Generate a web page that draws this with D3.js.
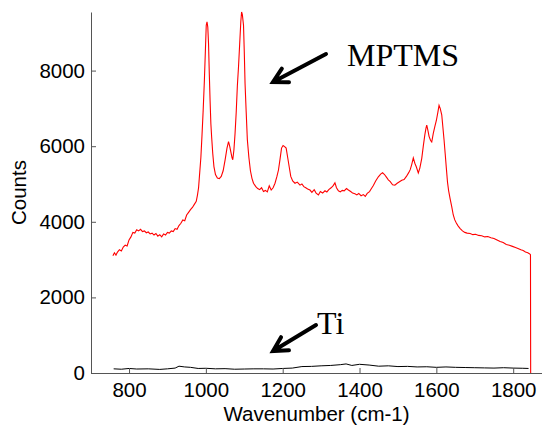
<!DOCTYPE html>
<html>
<head>
<meta charset="utf-8">
<script src="https://cdn.jsdelivr.net/npm/d3@7"></script>
<style>
  body { margin: 0; background: #fff; }
  svg { display: block; }
</style>
</head>
<body>
<svg id="chart"></svg>
<script>
// MPTMS spectrum, [wavenumber, counts]
const mptms = [
  [758, 3100], [762, 3180], [766, 3120], [770, 3200], [775, 3260], [780, 3230],
  [785, 3330], [790, 3380], [795, 3360], [800, 3520], [805, 3600], [810, 3720],
  [815, 3700], [820, 3790], [825, 3760], [830, 3800], [835, 3740], [840, 3760],
  [845, 3710], [850, 3730], [855, 3680], [860, 3700], [865, 3650], [870, 3690],
  [875, 3620], [880, 3660], [885, 3600], [890, 3680], [895, 3650], [900, 3720],
  [905, 3700], [910, 3760], [915, 3740], [920, 3820], [925, 3800], [930, 3900],
  [935, 3960], [940, 4050], [945, 4030], [950, 4180], [955, 4250], [960, 4320],
  [965, 4380], [970, 4460], [975, 4540], [978, 4700], [981, 4900], [984, 5300],
  [987, 5700], [990, 6300], [993, 6950], [996, 7700], [999, 8600], [1001, 9200],
  [1003, 9290], [1005, 9150], [1007, 8700], [1009, 7900], [1011, 7200], [1013, 6600],
  [1015, 6250], [1018, 5800], [1021, 5460], [1025, 5250], [1030, 5160], [1035, 5140],
  [1040, 5200], [1045, 5350], [1050, 5630], [1055, 5950], [1059, 6120], [1062, 6000],
  [1065, 5850], [1068, 5700], [1070, 5640], [1073, 5900], [1076, 6340], [1079, 6900],
  [1082, 7600], [1085, 8100], [1088, 8700], [1091, 9300], [1093, 9550], [1095, 9480],
  [1098, 9200], [1100, 8500], [1102, 7660], [1105, 6900], [1108, 6170], [1112, 5700],
  [1116, 5350], [1120, 5150], [1124, 5020], [1130, 4930], [1135, 4880], [1140, 4850],
  [1145, 4900], [1150, 4800], [1155, 4830], [1160, 4790], [1165, 4950], [1170, 4840],
  [1175, 4900], [1180, 5020], [1185, 5200], [1189, 5370], [1193, 5650], [1197, 5950],
  [1201, 6020], [1205, 5990], [1209, 5950], [1213, 5700], [1217, 5450], [1221, 5200],
  [1226, 5080], [1232, 5020], [1238, 5050], [1245, 4970], [1250, 5000], [1255, 4930],
  [1260, 4900], [1265, 4870], [1271, 4840], [1276, 4780], [1282, 4850], [1287, 4760],
  [1293, 4710], [1298, 4800], [1304, 4760], [1310, 4820], [1315, 4790], [1320, 4850],
  [1326, 4900], [1331, 4950], [1336, 5030], [1340, 4900], [1345, 4820], [1350, 4790],
  [1355, 4830], [1360, 4820], [1366, 4880], [1371, 4840], [1377, 4800], [1382, 4760],
  [1388, 4740], [1393, 4710], [1398, 4750], [1404, 4690], [1410, 4720], [1415, 4670],
  [1420, 4750], [1426, 4800], [1431, 4880], [1436, 4960], [1442, 5080], [1449, 5190],
  [1455, 5260], [1460, 5300], [1465, 5250], [1470, 5180], [1475, 5110], [1480, 5060],
  [1486, 4980], [1492, 4970], [1498, 5020], [1504, 5060], [1510, 5100], [1516, 5120],
  [1522, 5200], [1528, 5300], [1532, 5380], [1536, 5520], [1540, 5690], [1544, 5550],
  [1548, 5450], [1553, 5290], [1557, 5420], [1562, 5680], [1566, 6000], [1570, 6300],
  [1573, 6480], [1575, 6560], [1578, 6420], [1581, 6260], [1585, 6150], [1588, 6110],
  [1592, 6340], [1596, 6520], [1600, 6680], [1604, 6900], [1607, 7080], [1610, 7000],
  [1614, 6830], [1617, 6500], [1620, 6170], [1623, 5800], [1626, 5420], [1629, 5050],
  [1632, 4820], [1636, 4600], [1640, 4400], [1644, 4180], [1648, 4050], [1652, 3970],
  [1656, 3900], [1662, 3820], [1668, 3760], [1674, 3720], [1680, 3700], [1688, 3690],
  [1695, 3660], [1702, 3670], [1710, 3640], [1718, 3630], [1726, 3600], [1734, 3610],
  [1742, 3580], [1750, 3560], [1758, 3520], [1766, 3480], [1774, 3450], [1782, 3400],
  [1790, 3380], [1798, 3350], [1806, 3320], [1814, 3290], [1820, 3260], [1826, 3240],
  [1832, 3200], [1838, 3180], [1843, 3150], [1845, 3130], [1845.5, 0]
];

// Ti spectrum, [wavenumber, counts]
const ti = [
  [760, 110], [780, 100], [800, 120], [820, 105], [850, 110], [880, 95],
  [900, 110], [920, 130], [930, 180], [945, 160], [960, 150], [980, 120],
  [1000, 125], [1025, 110], [1050, 115], [1075, 100], [1100, 105], [1125, 110],
  [1150, 110], [1175, 105], [1200, 120], [1225, 130], [1250, 170], [1275, 175],
  [1300, 190], [1325, 200], [1350, 220], [1365, 240], [1380, 200], [1400, 230],
  [1425, 210], [1450, 180], [1475, 190], [1500, 170], [1525, 175], [1550, 160],
  [1575, 165], [1600, 150], [1625, 160], [1650, 150], [1675, 145], [1700, 140],
  [1725, 135], [1750, 130], [1775, 140], [1800, 130], [1825, 125], [1840, 120]
];

const xTicks = [800, 1000, 1200, 1400, 1600, 1800];
const yTicks = [0, 2000, 4000, 6000, 8000];

const width = 542, height = 427;
const margin = { top: 12, right: 0, bottom: 54, left: 91 };

const svg = d3.select("#chart")
  .attr("width", width)
  .attr("height", height);

const x = d3.scaleLinear()
  .domain([701, 1875])
  .range([margin.left, width - margin.right]);

const y = d3.scaleLinear()
  .domain([0, 9550])
  .range([height - margin.bottom, margin.top]);

const line = d3.line()
  .x(d => x(d[0]))
  .y(d => y(d[1]));

svg.append("path")
  .datum(ti)
  .attr("fill", "none")
  .attr("stroke", "#000")
  .attr("stroke-width", 1)
  .attr("d", line);

svg.append("path")
  .datum(mptms)
  .attr("fill", "none")
  .attr("stroke", "#ff0000")
  .attr("stroke-width", 1.1)
  .attr("d", line);

// axes, MATLAB style ticks pointing inward
const xAxis = svg.append("g")
  .attr("transform", `translate(0,${height - margin.bottom})`)
  .call(d3.axisBottom(x).tickValues(xTicks).tickFormat(d3.format("d"))
    .tickSizeInner(-5).tickSizeOuter(0).tickPadding(9));

const yAxis = svg.append("g")
  .attr("transform", `translate(${margin.left},0)`)
  .call(d3.axisLeft(y).tickValues(yTicks).tickFormat(d3.format("d"))
    .tickSizeInner(-5).tickSizeOuter(0).tickPadding(6));

[xAxis, yAxis].forEach(g => {
  g.select(".domain").attr("stroke", "#555");
  g.selectAll(".tick line").attr("stroke", "#555");
  g.selectAll("text")
    .attr("fill", "#000")
    .style("font-family", "'Liberation Sans', Arial, sans-serif")
    .style("font-size", "20.5px");
});

svg.append("text")
  .attr("x", (margin.left + width - margin.right) / 2)
  .attr("y", 421)
  .attr("text-anchor", "middle")
  .style("font-family", "'Liberation Sans', Arial, sans-serif")
  .style("font-size", "20.5px")
  .text("Wavenumber (cm-1)");

svg.append("text")
  .attr("transform", `translate(26,${(margin.top + height - margin.bottom) / 2}) rotate(-90)`)
  .attr("text-anchor", "middle")
  .style("font-family", "'Liberation Sans', Arial, sans-serif")
  .style("font-size", "20.5px")
  .text("Counts");

// annotations
const annotations = [
  { label: "MPTMS", tx: 347, ty: 66, from: [326, 54], to: [273, 82] },
  { label: "Ti", tx: 317, ty: 334, from: [316, 325], to: [273, 351] }
];

annotations.forEach(a => {
  svg.append("text")
    .attr("x", a.tx)
    .attr("y", a.ty)
    .style("font-family", "'Liberation Serif', 'Times New Roman', serif")
    .style("font-size", "32px")
    .attr("fill", "#000")
    .text(a.label);

  const ang = Math.atan2(a.to[1] - a.from[1], a.to[0] - a.from[0]);
  const hl = 16, spread = 0.5;
  const h1 = [a.to[0] - hl * Math.cos(ang - spread), a.to[1] - hl * Math.sin(ang - spread)];
  const h2 = [a.to[0] - hl * Math.cos(ang + spread), a.to[1] - hl * Math.sin(ang + spread)];

  svg.append("path")
    .attr("d", `M${a.from[0]},${a.from[1]}L${a.to[0]},${a.to[1]}M${h1[0]},${h1[1]}L${a.to[0]},${a.to[1]}L${h2[0]},${h2[1]}`)
    .attr("fill", "none")
    .attr("stroke", "#000")
    .attr("stroke-width", 4)
    .attr("stroke-linecap", "round")
    .attr("stroke-linejoin", "miter");
});
</script>
</body>
</html>
